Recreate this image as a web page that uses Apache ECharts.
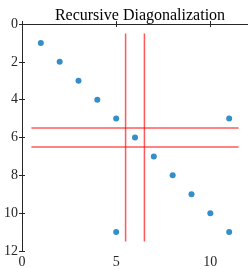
<!DOCTYPE html>
<html>
<head>
<meta charset="utf-8">
<script src="https://cdn.jsdelivr.net/npm/echarts@6/dist/echarts.min.js"></script>
<style>
  html, body { margin: 0; padding: 0; background: #fff; }
  #chart { width: 248px; height: 269px; }
</style>
</head>
<body>
<div id="chart"></div>
<script>
// matrix entries (column, row)
const pointX = [1, 2, 3, 4, 5, 6, 7, 8, 9, 10, 11, 11, 5]
const pointY = [1, 2, 3, 4, 5, 6, 7, 8, 9, 10, 11, 5, 11]
// split lines of the recursion
const splitAt = [5.5, 6.5]
const splitFrom = 0.5
const splitTo = 11.5

const font = 'Liberation Serif'
const chart = echarts.init(document.getElementById('chart'))

const lines = []
for (const s of splitAt) {
  lines.push([[s, splitFrom], [s, splitTo]])
  lines.push([[splitFrom, s], [splitTo, s]])
}

const axisCommon = {
  type: 'value',
  min: 0,
  max: 12,
  axisLine: { show: true, lineStyle: { color: '#262626', width: 1 } },
  axisTick: { show: true, inside: true, length: 3, lineStyle: { color: '#262626' } },
  splitLine: { show: false },
  axisLabel: { fontFamily: font, fontSize: 14, color: '#262626' }
}

chart.setOption({
  animation: false,
  title: {
    text: 'Recursive Diagonalization',
    left: 135,
    textAlign: 'center',
    top: 3,
    textStyle: { fontFamily: font, fontSize: 16, fontWeight: 'normal', color: '#000' }
  },
  grid: { left: 22, right: 0, top: 24, bottom: 18, containLabel: false, outerBoundsMode: 'none' },
  xAxis: [
    Object.assign({}, axisCommon, { position: 'bottom', interval: 5, axisLabel: Object.assign({}, axisCommon.axisLabel, { margin: 4, showMaxLabel: false }) }),
    Object.assign({}, axisCommon, { position: 'top', interval: 5, axisLabel: { show: false } })
  ],
  yAxis: [
    Object.assign({}, axisCommon, { position: 'left', inverse: true, interval: 2, axisLabel: Object.assign({}, axisCommon.axisLabel, { margin: 4 }) }),
    Object.assign({}, axisCommon, { position: 'right', inverse: true, interval: 2, axisLabel: { show: false } })
  ],
  series: lines.map(d => ({
    type: 'line',
    data: d,
    symbol: 'none',
    lineStyle: { color: 'rgba(255,0,0,0.65)', width: 1.5 },
    z: 2
  })).concat([{
    type: 'scatter',
    data: pointX.map((x, i) => [x, pointY[i]]),
    symbolSize: 6,
    itemStyle: { color: '#0072BD' },
    z: 3
  }])
})
</script>
</body>
</html>
